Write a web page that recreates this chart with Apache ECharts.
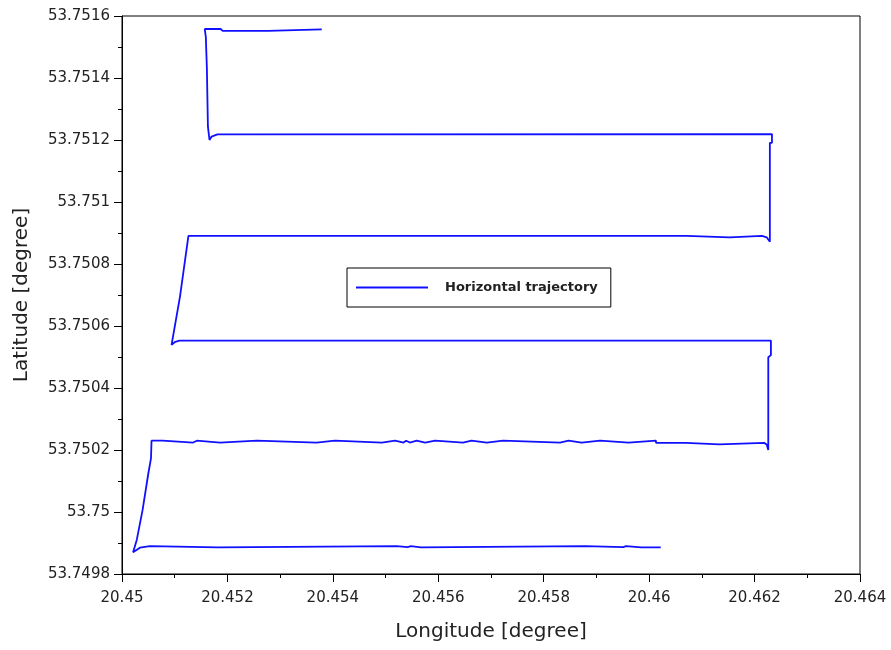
<!DOCTYPE html>
<html>
<head>
<meta charset="utf-8">
<script src="https://cdn.jsdelivr.net/npm/echarts@6/dist/echarts.min.js"></script>
<style>
html,body{margin:0;padding:0;background:#fff;}
#chart{width:891px;height:650px;}
</style>
</head>
<body>
<div id="chart"></div>
<script>
// Trajectory (longitude, latitude)
const seriesName = 'Horizontal trajectory';
const lonValues = [
  20.46022, 20.45985, 20.45985, 20.45956, 20.45956, 20.45951, 20.45951, 20.45879, 20.45879, 20.45567,
  20.45567, 20.45548, 20.45548, 20.45542, 20.45542, 20.45521, 20.45521, 20.45182, 20.45182, 20.45053,
  20.45034, 20.45021, 20.45028, 20.45039, 20.45050, 20.45055, 20.45056, 20.45077, 20.45077, 20.45135,
  20.45135, 20.45142, 20.45142, 20.45186, 20.45186, 20.45256, 20.45256, 20.45369, 20.45369, 20.45404,
  20.45404, 20.45493, 20.45493, 20.45518, 20.45518, 20.45534, 20.45534, 20.45539, 20.45539, 20.45546,
  20.45546, 20.45559, 20.45559, 20.45575, 20.45575, 20.45594, 20.45594, 20.45647, 20.45647, 20.45663,
  20.45663, 20.45692, 20.45692, 20.45723, 20.45723, 20.45831, 20.45831, 20.45847, 20.45847, 20.45872,
  20.45872, 20.45907, 20.45907, 20.45961, 20.45961, 20.46013, 20.46013, 20.46070, 20.46070, 20.46133,
  20.46133, 20.46218, 20.46223, 20.46226, 20.46226, 20.46231, 20.46231,
  20.45109, 20.45101, 20.45094, 20.45110, 20.45126,
  20.46071, 20.46071, 20.46153, 20.46153, 20.46214, 20.46223, 20.46229, 20.46229, 20.46233, 20.46233,
  20.45181, 20.45170, 20.45166, 20.45163, 20.45161, 20.45159, 20.45157,
  20.45187, 20.45191, 20.45277, 20.45277, 20.45379
];
const latValues = [
  53.749886, 53.749886, 53.749890, 53.749890, 53.749887, 53.749887, 53.749890, 53.749890, 53.749886, 53.749886,
  53.749890, 53.749890, 53.749887, 53.749887, 53.749890, 53.749890, 53.749886, 53.749886, 53.749890, 53.749890,
  53.749885, 53.749870, 53.749910, 53.750006, 53.750125, 53.750173, 53.750230, 53.750230, 53.750224, 53.750224,
  53.750230, 53.750230, 53.750224, 53.750224, 53.750230, 53.750230, 53.750224, 53.750224, 53.750230, 53.750230,
  53.750224, 53.750224, 53.750230, 53.750230, 53.750224, 53.750224, 53.750230, 53.750230, 53.750224, 53.750224,
  53.750230, 53.750230, 53.750224, 53.750224, 53.750230, 53.750230, 53.750224, 53.750224, 53.750230, 53.750230,
  53.750224, 53.750224, 53.750230, 53.750230, 53.750224, 53.750224, 53.750230, 53.750230, 53.750224, 53.750224,
  53.750230, 53.750230, 53.750224, 53.750224, 53.750230, 53.750230, 53.750223, 53.750223, 53.750218, 53.750218,
  53.750223, 53.750223, 53.750218, 53.750200, 53.750499, 53.750506, 53.750553,
  53.750553, 53.750549, 53.750539, 53.750695, 53.750891,
  53.750891, 53.750886, 53.750886, 53.750891, 53.750891, 53.750886, 53.750872, 53.751191, 53.751191, 53.751219,
  53.751218, 53.751211, 53.751200, 53.751243, 53.751432, 53.751533, 53.751558,
  53.751558, 53.751552, 53.751552, 53.751557, 53.751557
];
// Axis tick settings
const xMin = 20.450, xMax = 20.464, xStep = 0.002;
const yMin = 53.7498, yMax = 53.7516, yStep = 0.0002;
const xTitle = 'Longitude [degree]';
const yTitle = 'Latitude [degree]';

const points = lonValues.map((v, i) => [v, latValues[i]]);
const chart = echarts.init(document.getElementById('chart'), null, {renderer: 'canvas'});
const font = '"DejaVu Sans", sans-serif';
const blue = '#1010ff';
chart.setOption({
  animation: false,
  backgroundColor: '#ffffff',
  grid: {left: 122, right: 31, top: 16, bottom: 76, show: true, borderColor: '#000', borderWidth: 1, backgroundColor: 'transparent'},
  legend: {
    data: [{name: seriesName, icon: 'rect'}],
    left: 347, top: 268,
    orient: 'horizontal',
    itemWidth: 72, itemHeight: 2,
    padding: [12, 13, 12, 9],
    borderColor: '#000', borderWidth: 1,
    backgroundColor: '#fff',
    itemStyle: {color: blue},
    textStyle: {fontFamily: font, fontWeight: 'bold', fontSize: 13, color: '#222', lineHeight: 15, padding: [0, 0, 0, 12]}
  },
  xAxis: {
    type: 'value', min: xMin, max: xMax, interval: xStep,
    name: xTitle, nameLocation: 'middle', nameGap: 48,
    nameTextStyle: {fontFamily: font, fontSize: 20, color: '#222'},
    axisLine: {show: true, lineStyle: {color: '#000', width: 1}},
    axisTick: {show: true, inside: false, length: 8, lineStyle: {color: '#000'}},
    minorTick: {show: true, splitNumber: 2, length: 4, lineStyle: {color: '#000'}},
    splitLine: {show: false},
    axisLabel: {fontFamily: font, fontSize: 15, color: '#222', margin: 17,
      formatter: v => String(Number(v.toFixed(3)))}
  },
  yAxis: {
    type: 'value', min: yMin, max: yMax, interval: yStep,
    name: yTitle, nameLocation: 'middle', nameGap: 90, nameRotate: 90,
    nameTextStyle: {fontFamily: font, fontSize: 20, color: '#222'},
    axisLine: {show: true, lineStyle: {color: '#000', width: 1}},
    axisTick: {show: true, inside: false, length: 8, lineStyle: {color: '#000'}},
    minorTick: {show: true, splitNumber: 2, length: 4, lineStyle: {color: '#000'}},
    splitLine: {show: false},
    axisLabel: {fontFamily: font, fontSize: 15, color: '#222', margin: 12,
      formatter: v => String(Number(v.toFixed(4)))}
  },
  series: [{
    name: seriesName,
    type: 'line',
    data: points,
    symbol: 'none',
    showSymbol: false,
    lineStyle: {color: blue, width: 1.8},
    itemStyle: {color: blue}
  }]
});
</script>
</body>
</html>
